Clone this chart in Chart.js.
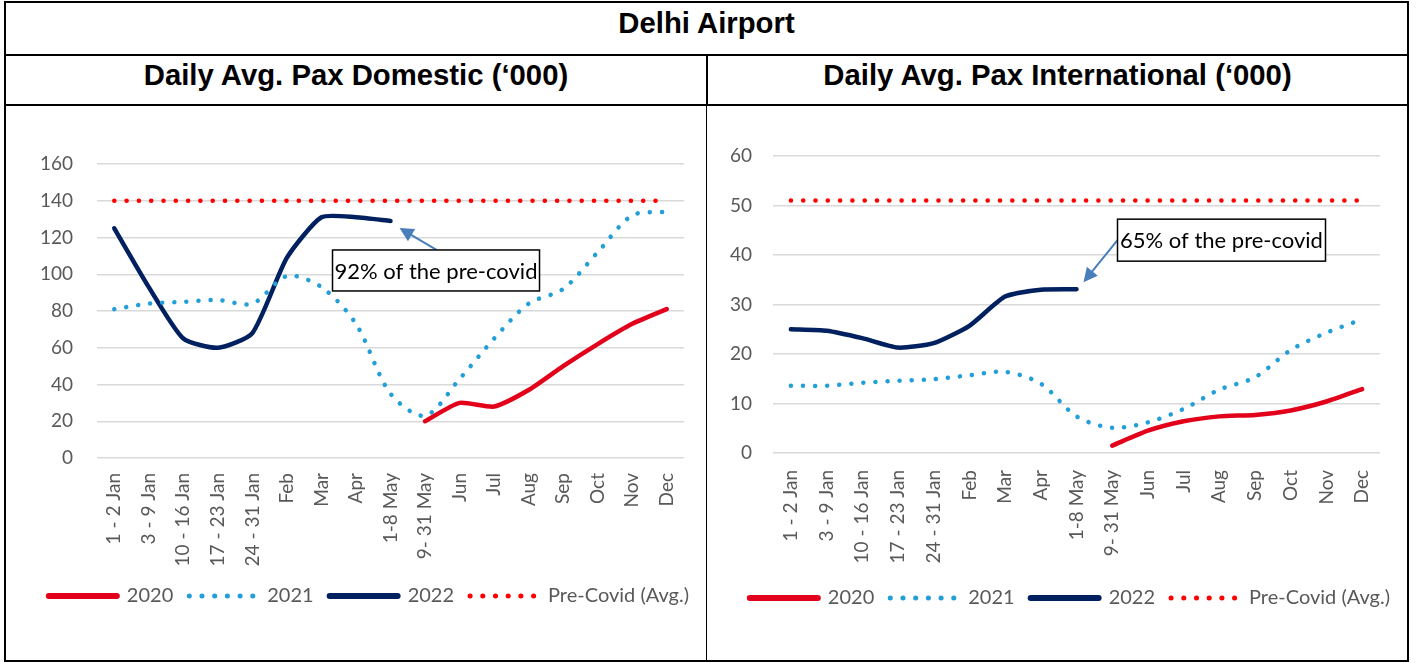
<!DOCTYPE html>
<html>
<head>
<meta charset="utf-8">
<title>Delhi Airport</title>
<script src="https://cdn.jsdelivr.net/npm/chart.js@4.4.1/dist/chart.umd.min.js"></script>
<style>
  body { margin: 0; background: #fff; width: 1416px; height: 663px; position: relative; overflow: hidden; font-family: 'Liberation Sans', Arial, sans-serif; }
  .rule { position: absolute; background: #000; }
  .head { position: absolute; font-weight: bold; font-size: 29.3px; line-height: 29px; text-align: center; color: #000; white-space: nowrap; }
  canvas { position: absolute; }
</style>
</head>
<body>
<div class="head" style="left:6px;width:1401px;top:8px">Delhi Airport</div>
<div class="head" style="left:6px;width:700px;top:60px">Daily Avg. Pax Domestic (‘000)</div>
<div class="head" style="left:708px;width:699px;top:60px">Daily Avg. Pax International (‘000)</div>

<canvas id="domestic-data" width="698" height="553" style="left:7px;top:107px"></canvas>
<canvas id="international-data" width="698" height="553" style="left:708px;top:107px"></canvas>

<!-- table borders -->
<div class="rule" style="left:4px;top:1px;width:1405px;height:2px"></div>
<div class="rule" style="left:4px;top:1px;width:2px;height:661px"></div>
<div class="rule" style="left:1407px;top:1px;width:2px;height:661px"></div>
<div class="rule" style="left:4px;top:660px;width:1405px;height:2px"></div>
<div class="rule" style="left:4px;top:54px;width:1405px;height:2px"></div>
<div class="rule" style="left:4px;top:104px;width:1405px;height:1.5px"></div>
<div class="rule" style="left:706px;top:55px;width:2px;height:50px"></div>
<div class="rule" style="left:706px;top:105px;width:1px;height:556px"></div>

<script>
// categories shared by both charts
const categories = ['1 - 2 Jan', '3 - 9 Jan', '10 - 16 Jan', '17 - 23 Jan', '24 - 31 Jan', 'Feb', 'Mar', 'Apr',
  '1-8 May', '9- 31 May', 'Jun', 'Jul', 'Aug', 'Sep', 'Oct', 'Nov', 'Dec'];
const seriesNames = ['2020', '2021', '2022', 'Pre-Covid (Avg.)'];

// Domestic ('000 pax per day)
const domestic2020 = [null, null, null, null, null, null, null, null, null, 20, 30, 28, 37, 50, 62, 73, 81];
const domestic2021 = [81, 84, 85, 86, 84, 99, 93, 73, 35, 23, 43, 65, 84, 92, 112, 132, 134];
const domestic2022 = [125, 93, 65, 60, 68, 109, 131, 131, 129, null, null, null, null, null, null, null, null];
const domesticPreCovid = [140, 140, 140, 140, 140, 140, 140, 140, 140, 140, 140, 140, 140, 140, 140, 140, 140];
const domesticTicks = [0, 20, 40, 60, 80, 100, 120, 140, 160];

// International ('000 pax per day)
const international2020 = [null, null, null, null, null, null, null, null, null, 1.5, 4.5, 6.4, 7.4, 7.7, 8.6, 10.4, 12.9];
const international2021 = [13.6, 13.6, 14.2, 14.6, 14.9, 15.7, 16.4, 14, 7.4, 5.1, 6.2, 8.9, 12.8, 15.3, 20.8, 24.3, 27];
const international2022 = [25, 24.7, 23.2, 21.3, 22.2, 25.7, 31.6, 33, 33.1, null, null, null, null, null, null, null, null];
const internationalPreCovid = [51, 51, 51, 51, 51, 51, 51, 51, 51, 51, 51, 51, 51, 51, 51, 51, 51];
const internationalTicks = [0, 10, 20, 30, 40, 50, 60];

const greyText = '#595959';

// arrow + boxed note pointing at the last 2022 point
const calloutPlugin = {
  id: 'callout',
  afterDatasetsDraw(chart, args, opts) {
    if (!opts || !opts.text) return;
    const point = chart.getDatasetMeta(opts.datasetIndex).data[opts.index];
    const ctx = chart.ctx;
    const tx = point.x + opts.tip[0], ty = point.y + opts.tip[1];
    const sx = point.x + opts.tail[0], sy = point.y + opts.tail[1];
    const ang = Math.atan2(ty - sy, tx - sx);
    const cos = Math.cos(ang), sin = Math.sin(ang);

    ctx.save();
    ctx.strokeStyle = '#4A7EBB';
    ctx.fillStyle = '#4A7EBB';
    ctx.lineWidth = 2;
    ctx.beginPath();
    ctx.moveTo(sx, sy);
    ctx.lineTo(tx - cos * 10, ty - sin * 10);
    ctx.stroke();
    ctx.beginPath();
    ctx.moveTo(tx, ty);
    ctx.lineTo(tx - 14 * cos + 7 * sin, ty - 14 * sin - 7 * cos);
    ctx.lineTo(tx - 14 * cos - 7 * sin, ty - 14 * sin + 7 * cos);
    ctx.closePath();
    ctx.fill();

    const bx = point.x + opts.box[0], by = point.y + opts.box[1];
    const bw = opts.box[2], bh = opts.box[3];
    ctx.fillStyle = '#ffffff';
    ctx.fillRect(bx, by, bw, bh);
    ctx.strokeStyle = '#000000';
    ctx.lineWidth = 1.5;
    ctx.strokeRect(bx, by, bw, bh);
    ctx.font = '22px Lato';
    ctx.fillStyle = '#000000';
    ctx.textAlign = 'center';
    ctx.textBaseline = 'middle';
    ctx.fillText(opts.text, bx + bw / 2, by + bh / 2 + 1);
    ctx.restore();
  }
};

function buildDatasets(v2020, v2021, v2022, vPre) {
  return [{
    label: seriesNames[0],
    data: v2020,
    borderColor: '#E2001A',
    backgroundColor: '#E2001A',
    borderWidth: 4.5,
    borderCapStyle: 'round',
    tension: 0.2,
    pointRadius: 0
  }, {
    label: seriesNames[1],
    data: v2021,
    borderColor: '#229FD7',
    backgroundColor: '#229FD7',
    borderWidth: 4.5,
    borderDash: [0.1, 12],
    borderCapStyle: 'round',
    tension: 0.3,
    pointRadius: 0
  }, {
    label: seriesNames[2],
    data: v2022,
    borderColor: '#002060',
    backgroundColor: '#002060',
    borderWidth: 4.5,
    borderCapStyle: 'round',
    tension: 0.2,
    pointRadius: 0
  }, {
    label: seriesNames[3],
    data: vPre,
    borderColor: '#FF0000',
    backgroundColor: '#FF0000',
    borderWidth: 4.5,
    borderDash: [0.1, 12.2],
    borderCapStyle: 'round',
    tension: 0,
    pointRadius: 0
  }];
}

function legendLabels(chart) {
  const items = Chart.defaults.plugins.legend.labels.generateLabels(chart);
  items.forEach(item => {
    const ds = chart.data.datasets[item.datasetIndex];
    const dotted = ds.borderDash && ds.borderDash.length;
    item.lineWidth = dotted ? 5 : 6;
    item.lineDash = dotted ? [0.1, 12.6] : [];
    item.lineCap = 'round';
    item.strokeStyle = ds.borderColor;
    item.pointStyle = 'line';
  });
  return items;
}

function buildOptions(ticks, layout, callout) {
  return {
    responsive: false,
    animation: false,
    layout: { padding: layout.padding },
    plugins: {
      legend: {
        position: 'bottom',
        align: 'end',
        labels: {
          usePointStyle: true,
          pointStyle: 'line',
          pointStyleWidth: 68,
          padding: 16,
          color: greyText,
          font: { family: 'Lato', size: 20 },
          generateLabels: legendLabels
        }
      },
      tooltip: { enabled: false },
      callout: callout
    },
    scales: {
      x: {
        offset: true,
        grid: { display: false, drawTicks: false },
        border: { display: false },
        ticks: {
          autoSkip: false,
          minRotation: 90,
          maxRotation: 90,
          padding: layout.xPad,
          color: greyText,
          font: { family: 'Lato', size: 19 }
        },
        afterFit: scale => { scale.height = layout.xHeight; }
      },
      y: {
        min: ticks[0],
        max: ticks[ticks.length - 1],
        ticks: {
          stepSize: ticks[1] - ticks[0],
          padding: layout.yPad,
          color: greyText,
          font: { family: 'Lato', size: 19 }
        },
        grid: { color: '#D9D9D9', lineWidth: 1.5, drawTicks: false },
        border: { display: false },
        afterFit: scale => { scale.width = layout.yWidth; }
      },
      // empty right-hand axis, only keeps the plot clear of the cell edge
      gutter: {
        position: 'right',
        grid: { display: false, drawTicks: false },
        border: { display: false },
        ticks: { display: false },
        afterFit: scale => { scale.width = layout.rightGap; }
      }
    }
  };
}

function createDomesticChart() {
  const ctx = document.getElementById('domestic-data').getContext('2d');
  new Chart(ctx, {
    type: 'line',
    data: {
      labels: categories,
      datasets: buildDatasets(domestic2020, domestic2021, domestic2022, domesticPreCovid)
    },
    options: buildOptions(domesticTicks,
      { padding: { top: 57, right: 0, bottom: 44, left: 0 }, xPad: 15, xHeight: 112, yPad: 24, yWidth: 90, rightGap: 15 },
      { text: '92% of the pre-covid', datasetIndex: 2, index: 8,
        tip: [9, 7], tail: [46, 29], box: [-58, 29, 207, 41] }),
    plugins: [calloutPlugin]
  });
}

function createInternationalChart() {
  const ctx = document.getElementById('international-data').getContext('2d');
  new Chart(ctx, {
    type: 'line',
    data: {
      labels: categories,
      datasets: buildDatasets(international2020, international2021, international2022, internationalPreCovid)
    },
    options: buildOptions(internationalTicks,
      { padding: { top: 49, right: 0, bottom: 42, left: 0 }, xPad: 17, xHeight: 119, yPad: 21, yWidth: 65, rightGap: 26 },
      { text: '65% of the pre-covid', datasetIndex: 2, index: 8,
        tip: [7, -7], tail: [41, -49], box: [41, -70, 208, 42] }),
    plugins: [calloutPlugin]
  });
}

createDomesticChart();
createInternationalChart();
</script>
</body>
</html>
